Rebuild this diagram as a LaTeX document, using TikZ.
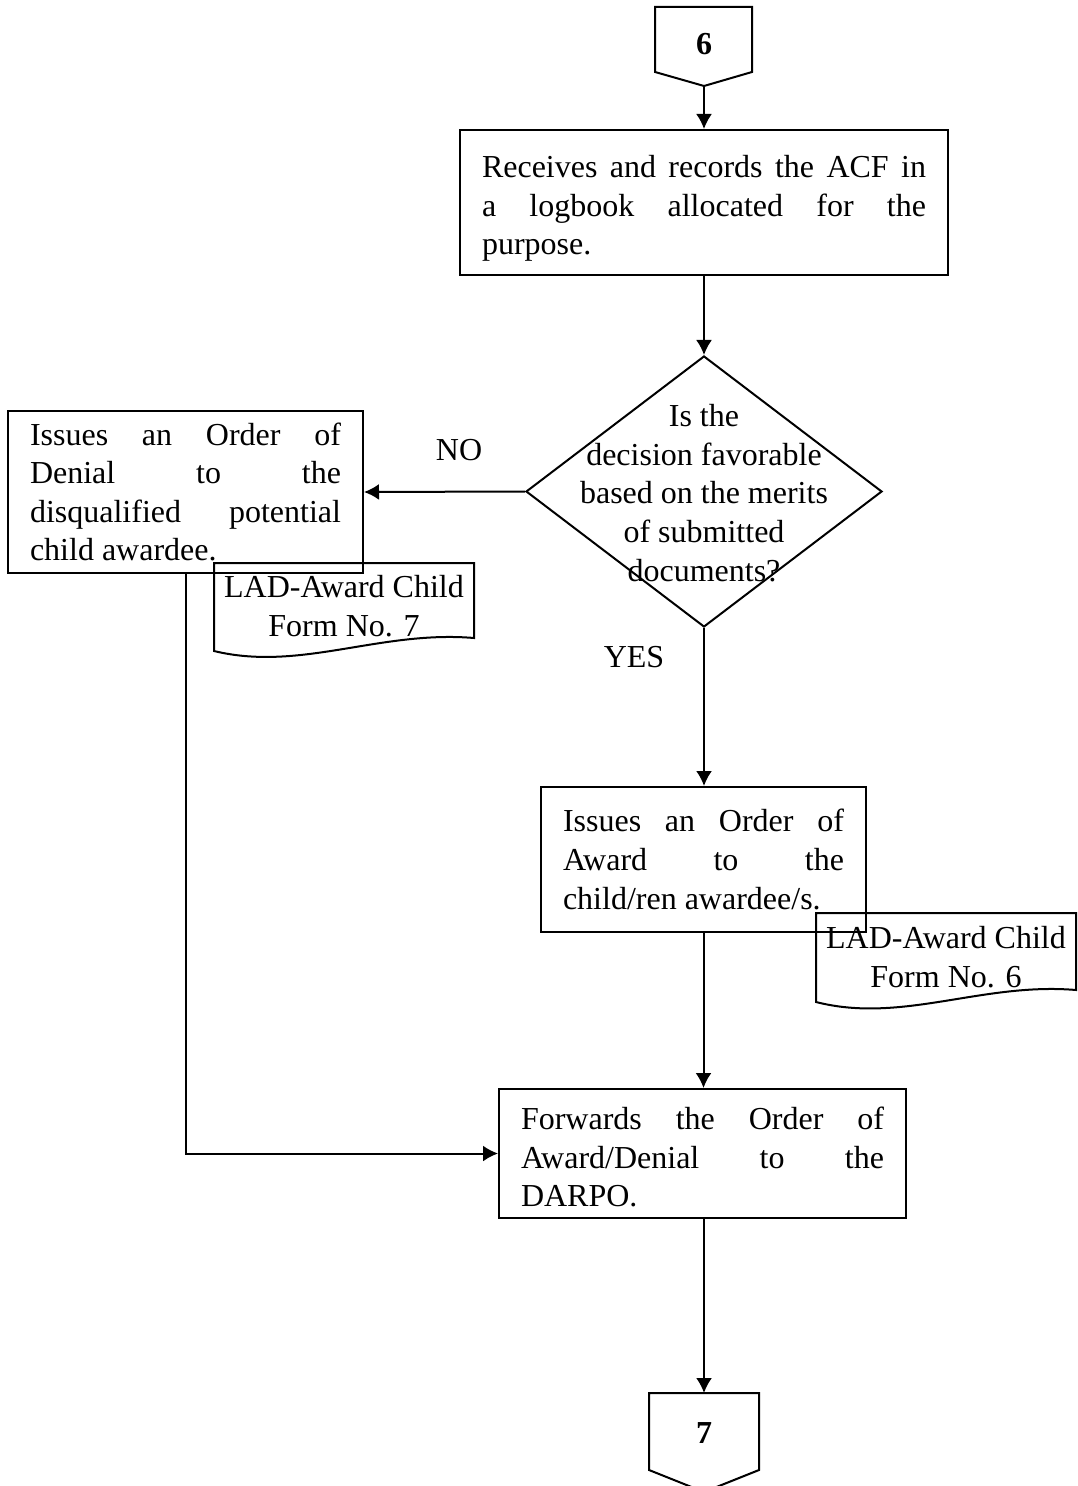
\documentclass[tikz,border=0pt]{standalone}
\usepackage{fontspec}
\setmainfont{Liberation Serif}
\usetikzlibrary{shapes.geometric,arrows.meta}
\tolerance=10000
\pretolerance=10000
\hyphenpenalty=10000
\begin{document}
\begin{tikzpicture}
        [x=0.5pt, y=-0.5pt,
        every node/.style={font=\fontsize{16}{19.3}\selectfont},
        process/.style={rectangle, draw, line width=1pt, inner xsep=11pt, inner ysep=0pt, align=justify},
        decision/.style={diamond, draw, line width=1pt, inner sep=0pt},
        docline/.style={line width=1pt},
        flow/.style={line width=1pt, -{Latex[length=7.5pt,width=8pt]}}]

        \useasboundingbox (0,0) rectangle (1077,1486);

        % off-page connectors
        \draw[docline] (655,7) -- (752,7) -- (752,72) -- (704,86) -- (655,72) -- cycle;
        \node (c6) at (704,44) {\bfseries 6};
        \coordinate (c6tip) at (704,86);

        \draw[docline] (649,1393) -- (759,1393) -- (759,1470) -- (704,1492) -- (649,1470) -- cycle;
        \node (c7) at (704,1433) {\bfseries 7};
        \coordinate (c7top) at (704,1393);

        % process boxes
        \node[process, minimum width=244pt, minimum height=72.5pt, text width=222pt] (acf) at (704,202.5)
          {\rule{0pt}{17pt}Receives and records the ACF in\linebreak a logbook allocated for the\linebreak purpose.};
        \node[process, minimum width=177.5pt, minimum height=81pt, text width=155.5pt] (denial) at (185.5,492)
          {Issues an Order of\linebreak Denial to the\linebreak disqualified potential\linebreak child awardee.};
        \node[process, minimum width=162.5pt, minimum height=72.5pt, text width=140.5pt] (award) at (703.5,859.5)
          {Issues an Order of\linebreak Award to the\linebreak child/ren awardee/s.};
        \node[process, minimum width=203.5pt, minimum height=64.5pt, text width=181.5pt] (forward) at (702.5,1153.5)
          {\rule{0pt}{15pt}Forwards the Order of\linebreak Award/Denial to the\linebreak DARPO.};

        % decision
        \node[decision, minimum width=178pt, minimum height=135.5pt] (dec) at (704,491.5) {};
        \node[align=center, inner sep=0pt] (dectext) at (704,493)
          {Is the\\decision favorable\\based on the merits\\of submitted\\documents?};

        % documents
        \draw[docline] (214,563) -- (474,563) -- (474,638)
          .. controls (380,630) and (300,672) .. (214,651) -- cycle;
        \node[align=center, inner sep=0pt] (form7) at (344,606) {LAD-Award Child\\Form No. 7};

        \draw[docline] (816,913) -- (1076,913) -- (1076,990)
          .. controls (982,982) and (902,1024) .. (816,1002) -- cycle;
        \node[align=center, inner sep=0pt] (form6) at (946,957) {LAD-Award Child\\Form No. 6};

        % labels
        \node (no) at (459,450) {NO};
        \node (yes) at (634,657) {YES};

        % connectors
        \draw[flow] (c6tip) -- (acf.north);
        \draw[flow] (acf.south) -- (dec.north);
        \draw[flow] (dec.west) -- (denial.east);
        \draw[flow] (dec.south) -- (dec.south |- award.north);
        \draw[flow] (award.south) -- (award.south |- forward.north);
        \draw[flow] (denial.south) |- (forward.west);
        \draw[flow] (c7top |- forward.south) -- (c7top);

\end{tikzpicture}
\end{document}
